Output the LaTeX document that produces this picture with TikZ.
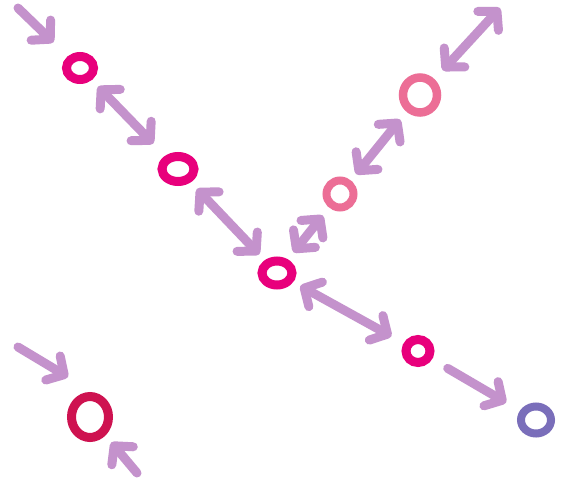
\documentclass[tikz,border=0pt]{standalone}
\usetikzlibrary{shapes.geometric,arrows.meta,calc}
\definecolor{arrowc}{RGB}{196,146,204}
\definecolor{mag}{RGB}{232,0,124}
\definecolor{pinkc}{RGB}{236,110,150}
\definecolor{crim}{RGB}{206,18,80}
\definecolor{purp}{RGB}{122,110,186}
\tikzset{
  ring/.style={ellipse, draw, line width=9pt, inner sep=0pt},
  tipc/.tip={Straight Barb[length=13pt,width=28pt,round]},
  arr/.style={draw=arrowc, line width=9pt, line cap=round, -tipc},
  dbl/.style={draw=arrowc, line width=9pt, line cap=round, tipc-tipc},
}
\begin{document}
\begin{tikzpicture}[x=1pt,y=-1pt]
\useasboundingbox (0,0) rectangle (568,477);
\fill[white] (0,0) rectangle (568,477);
% nodes
\node[ring, draw=mag, minimum width=27pt, minimum height=23pt] (n1) at (80,68) {};
\node[ring, draw=mag, minimum width=32pt, minimum height=25pt] (n2) at (178,169) {};
\node[ring, draw=mag, minimum width=30pt, minimum height=24pt] (n3) at (277,273) {};
\node[ring, draw=pinkc, line width=8pt, minimum width=27pt, minimum height=27pt] (n4) at (340,194) {};
\node[ring, draw=pinkc, line width=8.5pt, minimum width=34pt, minimum height=35pt] (n5) at (420,95) {};
\node[ring, draw=mag, minimum width=24pt, minimum height=23pt] (n6) at (418,351) {};
\node[ring, draw=purp, line width=8pt, minimum width=30pt, minimum height=27pt] (n7) at (536,420) {};
\node[ring, draw=crim, line width=9pt, minimum width=37pt, minimum height=41pt] (n8) at (90,417) {};
% free ends
\coordinate (c1) at (18,8);
\coordinate (c6) at (500,8);
\coordinate (c9) at (18,347);
\coordinate (c10) at (137,473);
\coordinate (c9e) at ($(n8)+(-22,-40)$);
% connectors
\draw[arr, shorten >=20pt] (c1) -- (n1);
\draw[dbl, shorten <=9pt, shorten >=17pt] (n1) -- (n2);
\draw[dbl, shorten <=9pt, shorten >=8pt] (n2) -- (n3);
\draw[dbl, shorten <=9pt, shorten >=10pt] (n3) -- (n4);
\draw[dbl, shorten <=8pt, shorten >=10pt] (n4) -- (n5);
\draw[dbl, shorten <=12pt] (n5) -- (c6);
\draw[dbl, shorten <=8pt, shorten >=14pt] (n3) -- (n6);
\draw[arr, shorten <=18pt, shorten >=16pt] (n6) -- (n7);
\draw[arr] (c9) -- (c9e);
\draw[arr, shorten >=9pt] (c10) -- (n8);
\end{tikzpicture}
\end{document}
